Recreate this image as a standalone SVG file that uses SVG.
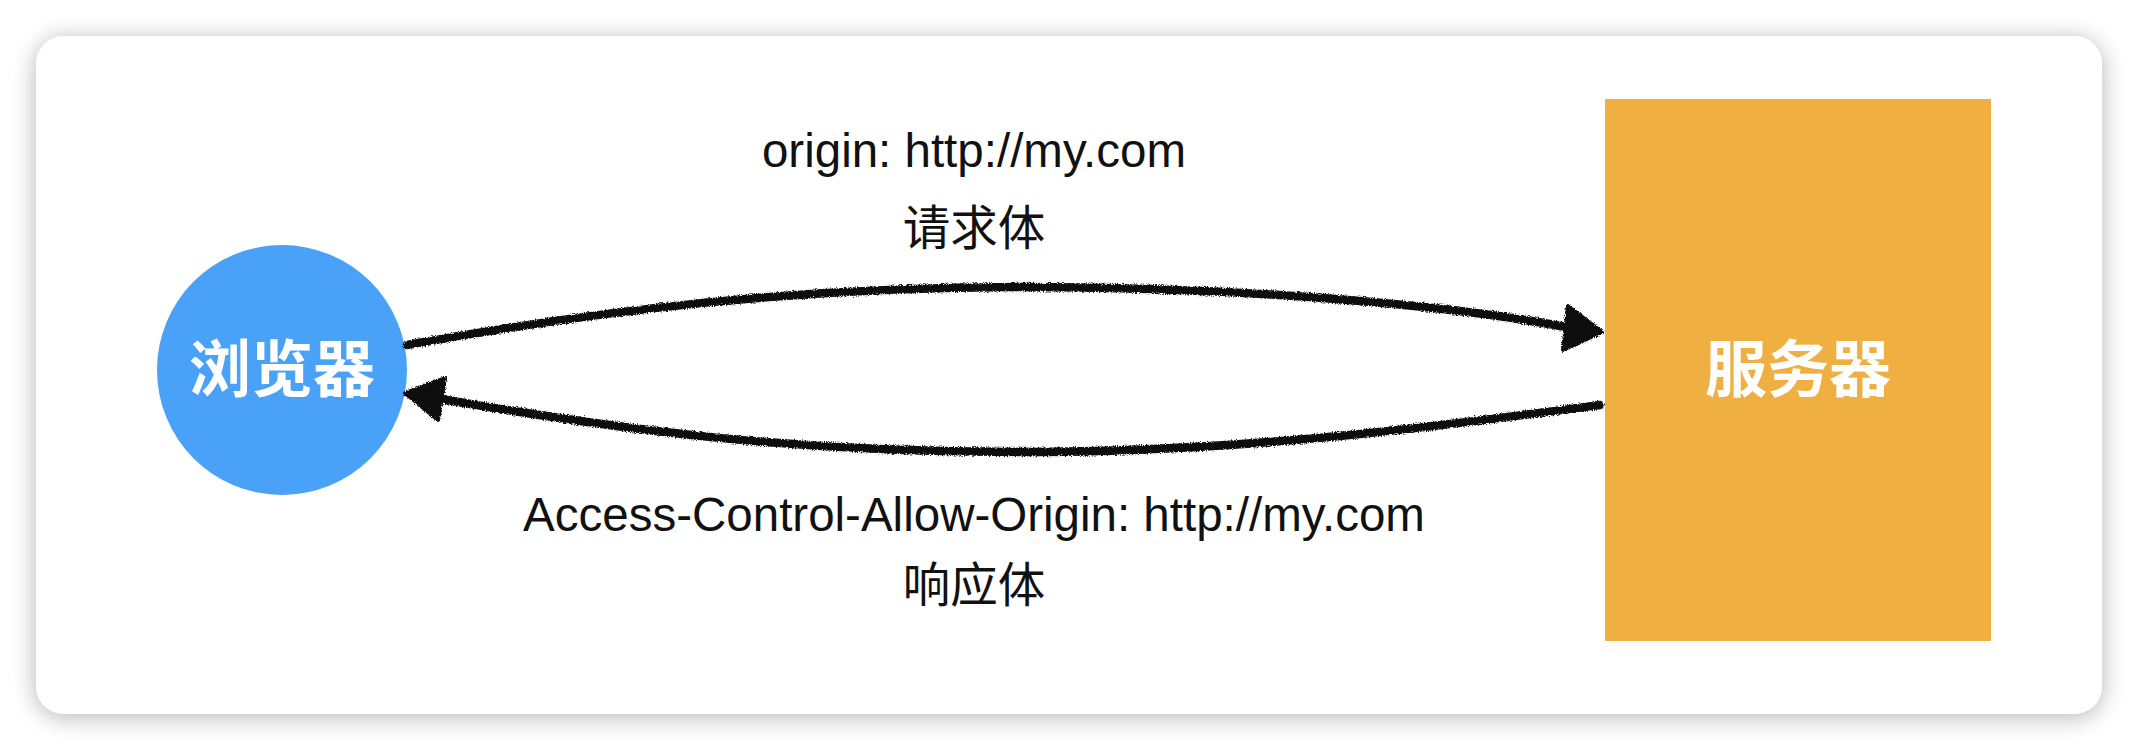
<svg xmlns="http://www.w3.org/2000/svg" width="2138" height="750" viewBox="0 0 2138 750">
  <style>
    .label { font-family: "Liberation Sans", "Noto Sans CJK SC", sans-serif; font-size: 47.5px; fill: #111; text-anchor: middle; }
    .node-text { font-family: "Noto Sans CJK SC", "Liberation Sans", sans-serif; font-size: 62px; font-weight: bold; fill: #ffffff; text-anchor: middle; }
    .stroke { fill: none; stroke: #111; stroke-width: 8.5; stroke-linecap: round; }
    .head { fill: #111; stroke: #111; stroke-width: 4; stroke-linejoin: round; }
  </style>
  <defs>
    <filter id="shadow" x="-5%" y="-10%" width="110%" height="120%">
      <feGaussianBlur in="SourceAlpha" stdDeviation="12"/>
      <feOffset dy="3" result="b"/>
      <feComponentTransfer in="b" result="s">
        <feFuncA type="linear" slope="0.3"/>
      </feComponentTransfer>
      <feMerge>
        <feMergeNode in="s"/>
        <feMergeNode in="SourceGraphic"/>
      </feMerge>
    </filter>
    <filter id="rough" x="-5%" y="-20%" width="110%" height="140%">
      <feTurbulence type="fractalNoise" baseFrequency="0.9" numOctaves="2" seed="3" result="n"/>
      <feDisplacementMap in="SourceGraphic" in2="n" scale="4.5" xChannelSelector="R" yChannelSelector="G"/>
    </filter>
  </defs>

  <rect width="2138" height="750" fill="#ffffff"/>
  <rect id="card" x="36" y="36" width="2066" height="678" rx="28" ry="28" fill="#ffffff" filter="url(#shadow)"/>

  <g id="browser">
    <circle cx="282" cy="370" r="125" fill="#49A1F8"/>
    <text class="node-text" x="282" y="392">浏览器</text>
  </g>

  <g id="server">
    <rect x="1605" y="99" width="386" height="542" fill="#F0B041"/>
    <text class="node-text" x="1798" y="392">服务器</text>
  </g>

  <g id="connectors" filter="url(#rough)">
    <path class="stroke" d="M407,345 C600,310 800,287 1020,287 S1450,305 1566,327"/>
    <polygon class="head" points="1602,332 1568,306 1563,350"/>
    <path class="stroke" d="M1600,405 C1450,425 1250,452 1020,452 S620,430 441,399"/>
    <polygon class="head" points="405,393 445,378 438,420"/>
  </g>

  <g id="labels">
    <text class="label" x="974" y="167">origin: http://my.com</text>
    <text class="label" x="974" y="245">请求体</text>
    <text class="label" x="974" y="531">Access-Control-Allow-Origin: http://my.com</text>
    <text class="label" x="974" y="602">响应体</text>
  </g>
</svg>
